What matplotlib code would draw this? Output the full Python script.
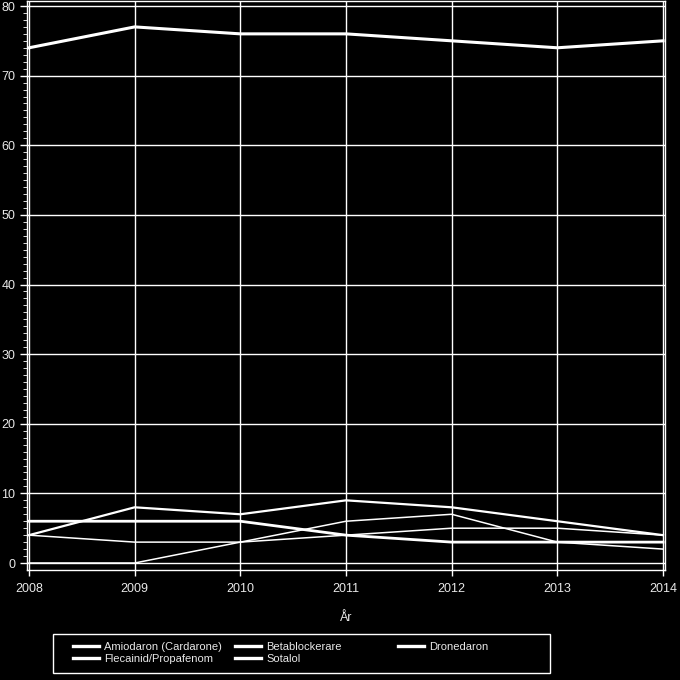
import matplotlib.pyplot as plt
from matplotlib.lines import Line2D
from matplotlib.patches import Rectangle

plt.rcParams['font.family'] = ['Liberation Sans', 'DejaVu Sans']

# Data
years = [2008, 2009, 2010, 2011, 2012, 2013, 2014]
amiodaron = [74, 77, 76, 76, 75, 74, 75]
betablockerare = [6, 6, 6, 4, 3, 3, 3]
dronedaron = [0, 0, 3, 6, 7, 3, 2]
flecainid = [4, 8, 7, 9, 8, 6, 4]
sotalol = [4, 3, 3, 4, 5, 5, 4]

series = [
    ('Amiodaron (Cardarone)', amiodaron, 2.2),
    ('Betablockerare', betablockerare, 2.0),
    ('Dronedaron', dronedaron, 1.1),
    ('Flecainid/Propafenom', flecainid, 1.6),
    ('Sotalol', sotalol, 1.1),
]

fig = plt.figure(figsize=(6.8, 6.8), dpi=100, facecolor='black')
ax = fig.add_axes([27 / 680, 1 - 570 / 680, 638 / 680, 569 / 680])
ax.set_facecolor('black')

for name, vals, lw in series:
    ax.plot(years, vals, color='white', lw=lw, solid_joinstyle='miter')

ax.set_xlim(2007.981, 2014.019)
ax.set_ylim(-1.005, 80.72)
ax.set_xticks(years)
ax.set_yticks(range(0, 81, 10))
ax.set_yticks(range(0, 81, 1), minor=True)
ax.grid(True, color='white', lw=1)
ax.set_axisbelow(True)
for s in ax.spines.values():
    s.set_color('white')
    s.set_linewidth(1)
ax.tick_params(axis='both', colors='white', labelcolor='#e8e8e8', labelsize=9, width=1)
ax.tick_params(axis='y', which='major', length=5)
ax.tick_params(axis='y', which='minor', length=3, color='white')
ax.tick_params(axis='x', which='major', length=4.5, pad=5)
ax.tick_params(axis='x', which='minor', bottom=False)
ax.set_xlabel('År', color='#e8e8e8', fontsize=9, labelpad=12)

# legend box
fig.patches.append(Rectangle((53 / 680, 1 - 673 / 680), 497 / 680, 39 / 680,
                             transform=fig.transFigure, fill=False,
                             edgecolor='white', lw=1))

columns = [
    (['Amiodaron (Cardarone)', 'Flecainid/Propafenom'], 73),
    (['Betablockerare', 'Sotalol'], 235),
    (['Dronedaron'], 398),
]
for labels, x in columns:
    handles = [Line2D([], [], color='white', lw=2.4) for _ in labels]
    fig.legend(handles, labels, loc='upper left',
               bbox_to_anchor=(x / 680, 1 - 641.5 / 680),
               frameon=False, fontsize=8, labelcolor='#e8e8e8',
               handlelength=2.3, handletextpad=0.5, labelspacing=0.25,
               borderpad=0, borderaxespad=0)

fig.savefig('out.png', dpi=100, facecolor='black')
